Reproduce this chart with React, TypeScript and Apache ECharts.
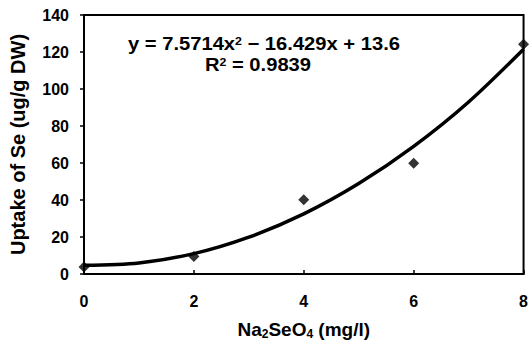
import React, { useEffect, useRef } from "react";
import * as echarts from "echarts";

const xTicks = [0, 2, 4, 6, 8];
const doseX = [0, 2, 4, 6, 8];
const uptakeY = [3.8, 9.5, 40.2, 59.8, 124.2];
const trendX = [0, 1, 2, 3, 4, 5, 6, 7, 8];
const trendY = [4.7, 6.0, 11.0, 19.9, 32.5, 48.9, 69.0, 93.0, 121.5];
const equationText = "y = 7.5714x{sup|2} − 16.429x + 13.6";
const r2Text = "R{sup|2} = 0.9839";

const FONT = "Liberation Sans, Arial, Helvetica, sans-serif";

export default function App() {
  const ref = useRef<HTMLDivElement>(null);
  useEffect(() => {
    if (!ref.current) return;
    const chart = echarts.init(ref.current, undefined, { renderer: "svg" });
    const supRich = {
      sup: { fontSize: 11, fontWeight: "bold", fontFamily: FONT, color: "#000", verticalAlign: "top", padding: [0, 0, 7, 0] },
    };
    chart.setOption({
      animation: false,
      backgroundColor: "#fff",
      grid: {
        left: 82,
        top: 15,
        right: 6,
        bottom: 65,
        show: true,
        borderColor: "#000",
        borderWidth: 2,
        backgroundColor: "transparent",
      },
      xAxis: {
        type: "value",
        min: 0,
        max: 8,
        interval: 2,
        name: "Na{sub|2}SeO{sub|4} (mg/l)",
        nameLocation: "middle",
        nameGap: 44,
        nameTextStyle: {
          fontSize: 19,
          fontWeight: "bold",
          fontFamily: FONT,
          color: "#000",
          rich: {
            sub: { fontSize: 12, fontWeight: "bold", fontFamily: FONT, color: "#000", verticalAlign: "bottom", padding: [10, 0, 0, 0] },
          },
        },
        axisLine: { show: true, lineStyle: { color: "#000", width: 2 } },
        axisTick: { show: true, inside: true, length: 4, lineStyle: { color: "#000", width: 1.5 } },
        axisLabel: {
          fontSize: 16,
          fontWeight: "bold",
          fontFamily: FONT,
          color: "#000",
          margin: 19,
          formatter: (v: number) => (xTicks.includes(v) ? String(v) : ""),
        },
        splitLine: { show: false },
      },
      yAxis: {
        type: "value",
        min: 0,
        max: 140,
        interval: 20,
        name: "Uptake of Se (ug/g DW)",
        nameLocation: "middle",
        nameRotate: 90,
        nameGap: 56,
        nameTextStyle: { fontSize: 20, fontWeight: "bold", fontFamily: FONT, color: "#000" },
        axisLine: { show: true, lineStyle: { color: "#000", width: 2 } },
        axisTick: { show: true, inside: false, length: 4, lineStyle: { color: "#000", width: 1.5 } },
        axisLabel: { fontSize: 16, fontWeight: "bold", fontFamily: FONT, color: "#000", margin: 15 },
        splitLine: { show: false },
      },
      series: [
        {
          type: "line",
          data: trendX.map((x, i) => [x, trendY[i]]),
          smooth: 0.3,
          showSymbol: false,
          symbol: "none",
          lineStyle: { color: "#000", width: 3.5 },
          z: 2,
        },
        {
          type: "scatter",
          data: doseX.map((x, i) => [x, uptakeY[i]]),
          symbol: "diamond",
          symbolSize: 11,
          itemStyle: { color: "#000" },
          z: 3,
        },
      ],
      graphic: [
        {
          type: "text",
          x: 128,
          y: 44,
          scaleX: 1.12,
          style: {
            text: equationText,
            fontSize: 18,
            fontWeight: "bold",
            fontFamily: FONT,
            fill: "#000",
            verticalAlign: "middle",
            rich: supRich,
          },
        },
        {
          type: "text",
          x: 205,
          y: 65,
          scaleX: 1.12,
          style: {
            text: r2Text,
            fontSize: 18,
            fontWeight: "bold",
            fontFamily: FONT,
            fill: "#000",
            verticalAlign: "middle",
            rich: supRich,
          },
        },
      ],
    });
    return () => chart.dispose();
  }, []);
  return <div ref={ref} style={{ width: 531, height: 345, position: "absolute", left: 0, top: 0 }} />;
}
